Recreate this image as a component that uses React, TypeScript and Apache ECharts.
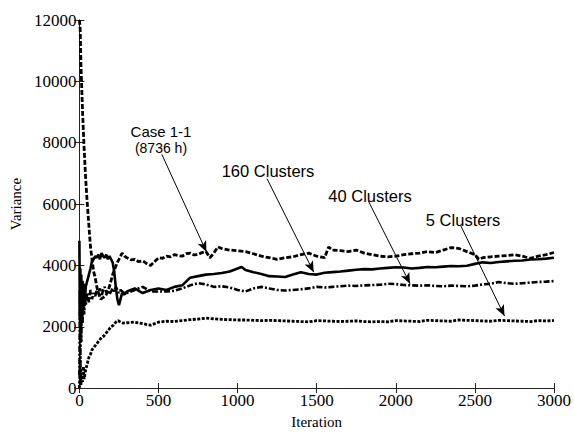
import React, { useEffect, useRef } from "react";
import * as echarts from "echarts";

// ---------- data ----------
const xTicks = [0, 500, 1000, 1500, 2000, 2500, 3000];

const case11Iter = [0, 5, 10, 20, 30, 40, 50, 60, 70, 80, 90, 100, 110, 120, 135, 150, 165, 180, 195, 210, 225, 240, 255, 270, 285,
  300, 325, 350, 375, 400, 425, 450, 475, 500, 525, 550, 575, 600, 625, 650, 675, 700, 725, 750, 775, 800, 825, 850, 875, 900, 950, 1000, 1050, 1100, 1150, 1200, 1250, 1300, 1350, 1400, 1450, 1500, 1550, 1575, 1600, 1650, 1700, 1750, 1800, 1850, 1900, 1950, 2000, 2050, 2100, 2150, 2200, 2250, 2300, 2350, 2400, 2450, 2500, 2525, 2550, 2600, 2650, 2700, 2750, 2800, 2850, 2900, 2950, 3000];
const case11Vals = [12000, 11700, 10500, 9000, 7800, 6800, 6000, 5300, 4600, 4200, 3800, 3600, 3300, 3100, 2900, 2950, 3000, 3150, 3400, 3700, 3900, 4100, 4250, 4400, 4300,
  4250, 4180, 4200, 4120, 4150, 4060, 4000, 4120, 4250, 4230, 4300, 4280, 4350, 4320, 4300, 4380, 4400, 4340, 4350, 4420, 4450, 4250, 4400, 4600, 4550, 4500, 4480, 4450, 4380, 4300, 4250, 4200, 4250, 4280, 4350, 4400, 4300, 4250, 4600, 4500, 4480, 4450, 4500, 4400, 4350, 4300, 4280, 4300, 4350, 4380, 4400, 4450, 4420, 4500, 4580, 4550, 4450, 4350, 4200, 4250, 4280, 4300, 4320, 4350, 4300, 4230, 4300, 4350, 4420];

const c160Iter = [0, 3, 6, 9, 12, 15, 20, 25, 30, 35, 40, 50, 60, 70, 80, 90, 100, 110, 120, 130, 140, 150, 160, 170, 180, 190, 200, 210, 220, 230, 240, 250, 260, 270, 285,
  300, 350, 400, 450, 500, 550, 600, 650, 700, 750, 800, 850, 900, 950, 1000, 1025, 1050, 1100, 1150, 1200, 1250, 1300, 1350, 1400, 1450, 1500, 1550, 1600, 1650, 1700, 1750, 1800, 1850, 1900, 1950, 2000, 2050, 2100, 2150, 2200, 2250, 2300, 2350, 2400, 2450, 2500, 2550, 2600, 2650, 2700, 2750, 2800, 2850, 2900, 2950, 3000];
const c160Vals = [4800, 2200, 3900, 1800, 3700, 2400, 3500, 2600, 3400, 2900, 3300, 3500, 3700, 3900, 4150, 4200, 4300, 4250, 4350, 4200, 4400, 4300, 4250, 4350, 4200, 4300, 4200, 4100, 3800, 3300, 2900, 2700, 2900, 3100, 3050,
  3150, 3250, 3100, 3200, 3250, 3200, 3300, 3350, 3600, 3650, 3700, 3720, 3750, 3800, 3900, 3950, 3850, 3780, 3720, 3650, 3640, 3620, 3700, 3780, 3720, 3700, 3760, 3780, 3800, 3830, 3860, 3880, 3870, 3900, 3920, 3940, 3930, 3900, 3920, 3950, 3940, 3960, 3980, 3970, 3990, 4050, 4100, 4080, 4110, 4130, 4150, 4160, 4190, 4200, 4220, 4250];

const c40Iter = [0, 3, 6, 9, 12, 15, 20, 25, 30, 35, 40, 50, 60, 70, 80, 90, 100, 110, 120, 130, 140, 150, 160, 170, 180, 190, 200, 210, 220, 230, 240, 250, 260, 270, 285,
  300, 350, 400, 450, 500, 550, 600, 650, 700, 750, 800, 850, 900, 950, 1000, 1050, 1100, 1150, 1200, 1250, 1300, 1350, 1400, 1450, 1500, 1550, 1600, 1650, 1700, 1750, 1800, 1850, 1900, 1950, 2000, 2050, 2100, 2150, 2200, 2250, 2300, 2350, 2400, 2450, 2500, 2550, 2600, 2650, 2700, 2750, 2800, 2850, 2900, 2950, 3000];
const c40Vals = [400, 3200, 800, 3500, 1500, 2900, 2100, 3300, 2400, 3000, 2700, 3100, 2800, 3200, 2900, 3100, 3000, 3200, 3100, 3250, 3000, 3200, 3300, 3100, 3200, 3050, 3150, 3250, 3150, 3300, 3200, 3100, 3200, 3150, 3100,
  3100, 3200, 3300, 3150, 3150, 3150, 3170, 3250, 3350, 3420, 3380, 3300, 3320, 3280, 3200, 3150, 3250, 3300, 3250, 3200, 3180, 3200, 3220, 3250, 3300, 3280, 3300, 3320, 3340, 3330, 3350, 3360, 3370, 3400, 3390, 3360, 3350, 3340, 3350, 3330, 3320, 3340, 3330, 3320, 3340, 3380, 3400, 3460, 3420, 3400, 3420, 3440, 3460, 3470, 3490];

const c5Iter = [0, 5, 10, 15, 20, 25, 30, 40, 50, 60, 70, 80, 95, 110, 125, 140, 155, 170, 185, 200, 215, 230, 245, 260, 275,
  300, 350, 400, 450, 500, 550, 600, 650, 700, 750, 800, 850, 900, 950, 1000, 1050, 1100, 1150, 1200, 1250, 1300, 1350, 1400, 1450, 1500, 1550, 1600, 1650, 1700, 1750, 1800, 1850, 1900, 1950, 2000, 2050, 2100, 2150, 2200, 2250, 2300, 2350, 2400, 2450, 2500, 2550, 2600, 2650, 2700, 2750, 2800, 2850, 2900, 2950, 3000];
const c5Vals = [0, 900, 100, 500, 200, 700, 300, 600, 800, 1000, 1100, 1250, 1350, 1450, 1550, 1650, 1700, 1800, 1900, 2000, 2050, 2150, 2200, 2150, 2120,
  2130, 2150, 2100, 2050, 2150, 2180, 2170, 2200, 2230, 2250, 2280, 2260, 2240, 2230, 2220, 2220, 2210, 2200, 2210, 2200, 2190, 2180, 2170, 2160, 2200, 2190, 2180, 2170, 2180, 2190, 2170, 2160, 2170, 2160, 2200, 2190, 2180, 2170, 2210, 2200, 2190, 2180, 2220, 2210, 2200, 2190, 2180, 2210, 2200, 2190, 2180, 2170, 2200, 2190, 2200];

// annotation arrows: [startIter, startVal, endIter, endVal]
const arrowCase = [521, 7620, 803, 4440];
const arrow160 = [1186, 6825, 1481, 3780];
const arrow40 = [1827, 6095, 2090, 3400];
const arrow5 = [2410, 5300, 2687, 2350];

const zip = (xs: number[], ys: number[]) => xs.map((x, i) => [x, ys[i]]);

export default function App() {
  const ref = useRef<HTMLDivElement>(null);
  useEffect(() => {
    const chart = echarts.init(ref.current!, null, { renderer: "svg" });
    const serif = "Liberation Serif";
    const sans = "Liberation Sans";
    const axisCommon = {
      axisLine: { show: true, lineStyle: { color: "#222", width: 1 } },
      axisTick: { show: true, inside: true, length: 5, lineStyle: { color: "#222" } },
      splitLine: { show: false },
    };
    const labelStyle = {
      show: true,
      color: "#000",
      fontFamily: serif,
      fontSize: 17,
      formatter: (v: number) => String(v),
    };
    const arrowLine = (a: number[]) => [
      { coord: [a[0], a[1]] },
      { coord: [a[2], a[3]] },
    ];
    const lineSeries = (name: string, data: number[][], type: any, width = 2.5) => ({
      name,
      type: "line",
      data,
      xAxisIndex: 0,
      yAxisIndex: 0,
      showSymbol: false,
      symbol: "none",
      lineStyle: { color: "#000", width, type },
    });
    chart.setOption({
      animation: false,
      backgroundColor: "#fff",
      textStyle: { fontFamily: serif, fontSize: 16, color: "#000" },
      grid: { left: 79, right: 17, top: 20, bottom: 37 },
      xAxis: [
        {
          type: "value", min: 0, max: 3000, interval: 500, position: "bottom",
          ...axisCommon,
          axisLabel: { ...labelStyle, margin: 4 },
          name: "Iteration", nameLocation: "middle", nameGap: 20,
          nameTextStyle: { color: "#000", fontFamily: serif, fontSize: 15 },
        },
        {
          type: "value", min: 0, max: 3000, interval: 500, position: "top",
          ...axisCommon, axisLabel: { show: false },
        },
      ],
      yAxis: [
        {
          type: "value", min: 0, max: 12000, interval: 2000, position: "left",
          ...axisCommon,
          axisLabel: { ...labelStyle, margin: 3 },
          name: "Variance", nameLocation: "middle", nameGap: 52,
          nameTextStyle: { color: "#000", fontFamily: serif, fontSize: 15 },
        },
        {
          type: "value", min: 0, max: 12000, interval: 2000, position: "right",
          ...axisCommon, axisLabel: { show: false },
        },
      ],
      series: [
        lineSeries("Case 1-1 (8736 h)", zip(case11Iter, case11Vals), [5, 2], 2.8),
        lineSeries("160 Clusters", zip(c160Iter, c160Vals), "solid", 2.6),
        lineSeries("40 Clusters", zip(c40Iter, c40Vals), [6, 2, 2, 2], 2.6),
        {
          ...lineSeries("5 Clusters", zip(c5Iter, c5Vals), [3, 1.5], 2.8),
          markLine: {
            silent: true,
            symbol: ["none", "arrow"],
            symbolSize: [7, 11],
            label: { show: false },
            lineStyle: { color: "#000", width: 1, type: "solid" },
            data: [arrowLine(arrowCase), arrowLine(arrow160), arrowLine(arrow40), arrowLine(arrow5)],
          },
        },
      ],
      graphic: [
        { type: "text", x: 161, y: 131, style: { text: "Case 1-1", font: `15px ${sans}`, fill: "#000", textAlign: "center", textVerticalAlign: "middle" } },
        { type: "text", x: 161, y: 148, style: { text: "(8736 h)", font: `14px ${sans}`, fill: "#000", textAlign: "center", textVerticalAlign: "middle" } },
        { type: "text", x: 268, y: 171, style: { text: "160 Clusters", font: `16.5px ${sans}`, fill: "#000", textAlign: "center", textVerticalAlign: "middle" } },
        { type: "text", x: 370, y: 196, style: { text: "40 Clusters", font: `16.5px ${sans}`, fill: "#000", textAlign: "center", textVerticalAlign: "middle" } },
        { type: "text", x: 463, y: 220, style: { text: "5 Clusters", font: `16.5px ${sans}`, fill: "#000", textAlign: "center", textVerticalAlign: "middle" } },
      ],
    });
    return () => chart.dispose();
  }, []);
  return (
    <div
      ref={ref}
      style={{ position: "fixed", left: 0, top: 0, width: 574, height: 434, background: "#fff" }}
    />
  );
}
